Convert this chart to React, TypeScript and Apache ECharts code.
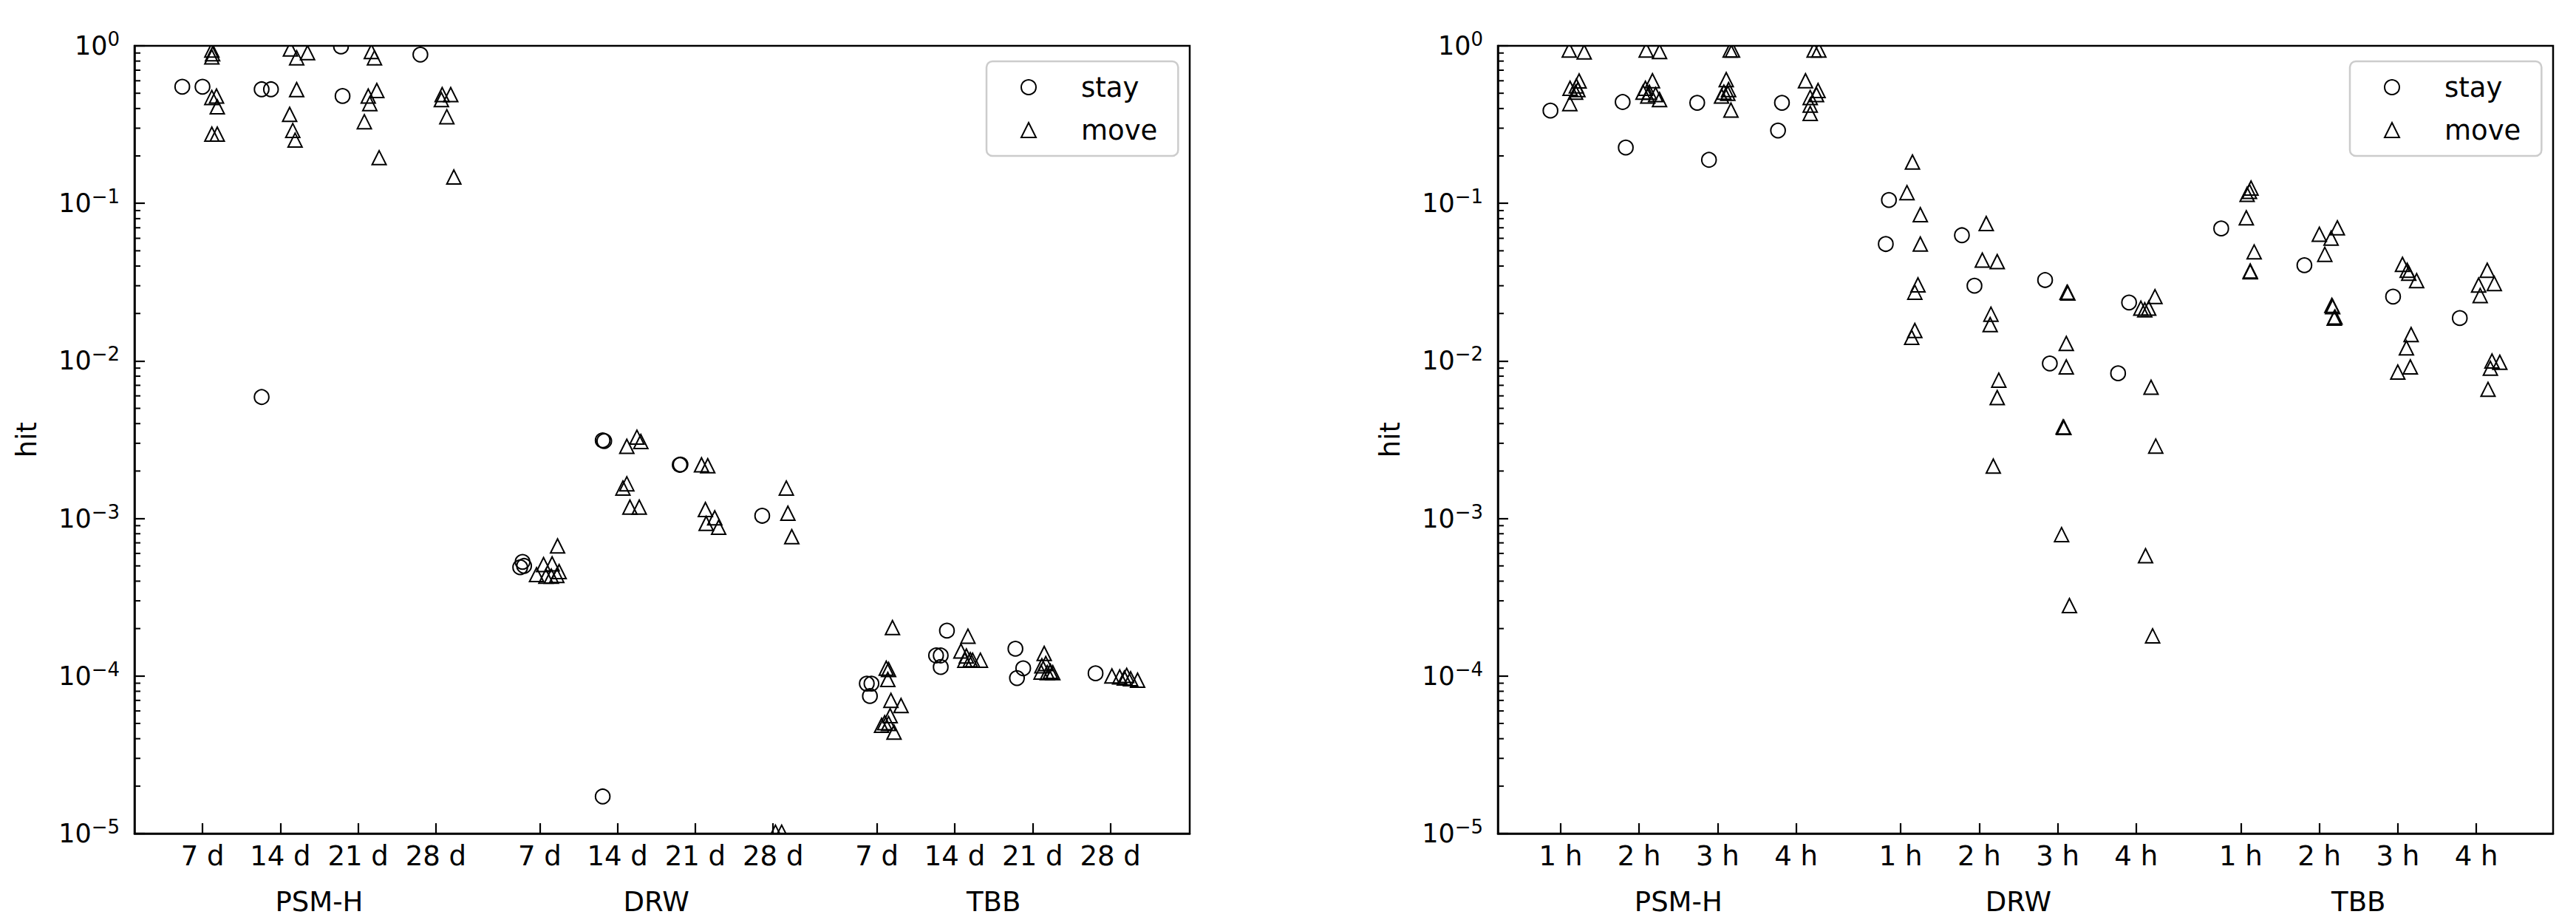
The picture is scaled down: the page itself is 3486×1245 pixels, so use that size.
import React, { useEffect, useRef } from 'react';
import * as echarts from 'echarts';

// ---------- data ----------
// tick positions on the x axis (three groups of four, groups separated by 4.333)
const TICK_POS = [0, 1, 2, 3, 4.333, 5.333, 6.333, 7.333, 8.667, 9.667, 10.667, 11.667];
const GROUP_CENTERS = [1.5, 5.833, 10.167];
const GROUPS = ['PSM-H', 'DRW', 'TBB'];
const LEFT_TICK_LABELS = ['7 d', '14 d', '21 d', '28 d', '7 d', '14 d', '21 d', '28 d', '7 d', '14 d', '21 d', '28 d'];
const RIGHT_TICK_LABELS = ['1 h', '2 h', '3 h', '4 h', '1 h', '2 h', '3 h', '4 h', '1 h', '2 h', '3 h', '4 h'];
const MINOR_VALUES = [1e-5, 1e-4, 1e-3, 1e-2, 1e-1].flatMap((d) => [2, 3, 4, 5, 6, 7, 8, 9].map((k) => +(k * d).toPrecision(3)));

// [category index, horizontal jitter, hit]
const leftStay: [number, number, number][] = [
  [0, -0.26, 0.55], [0, 0.0, 0.55],
  [1, -0.24, 0.53], [1, -0.12, 0.53], [1, -0.24, 0.0059],
  [2, -0.22, 0.99], [2, -0.2, 0.48],
  [3, -0.2, 0.88],
  [4, -0.22, 5.3e-4], [4, -0.25, 4.9e-4], [4, -0.2, 5.0e-4],
  [5, -0.19, 3.13e-3], [5, -0.17, 3.1e-3], [5, -0.19, 1.72e-5],
  [6, -0.2, 2.19e-3], [6, -0.19, 2.2e-3],
  [7, -0.14, 1.04e-3],
  [8, -0.13, 8.95e-5], [8, -0.07, 8.95e-5], [8, -0.09, 7.46e-5],
  [9, -0.1, 1.94e-4], [9, -0.24, 1.35e-4], [9, -0.18, 1.35e-4], [9, -0.18, 1.14e-4],
  [10, -0.22, 1.49e-4], [10, -0.12, 1.12e-4], [10, -0.2, 9.7e-5],
  [11, -0.19, 1.04e-4],
];
const leftMove: [number, number, number][] = [
  [0, 0.12, 0.94], [0, 0.13, 0.89], [0, 0.12, 0.85], [0, 0.18, 0.48], [0, 0.12, 0.47], [0, 0.19, 0.41], [0, 0.12, 0.275], [0, 0.19, 0.275],
  [1, 0.13, 0.955], [1, 0.21, 0.84], [1, 0.35, 0.905], [1, 0.21, 0.527], [1, 0.12, 0.367], [1, 0.16, 0.29], [1, 0.19, 0.252],
  [2, 0.17, 0.92], [2, 0.21, 0.84], [2, 0.24, 0.52], [2, 0.13, 0.48], [2, 0.15, 0.43], [2, 0.08, 0.33], [2, 0.27, 0.195],
  [3, 0.08, 0.49], [3, 0.19, 0.49], [3, 0.07, 0.456], [3, 0.14, 0.355], [3, 0.23, 0.147],
  [4, 0.05, 5.1e-4], [4, 0.16, 5.15e-4], [4, -0.04, 4.4e-4], [4, 0.08, 4.3e-4], [4, 0.15, 4.3e-4], [4, 0.22, 4.35e-4], [4, 0.25, 4.6e-4], [4, 0.23, 6.7e-4],
  [5, 0.25, 3.28e-3], [5, 0.3, 3.08e-3], [5, 0.12, 2.87e-3], [5, 0.12, 1.66e-3], [5, 0.07, 1.56e-3], [5, 0.16, 1.18e-3], [5, 0.28, 1.18e-3],
  [6, 0.08, 2.19e-3], [6, 0.16, 2.16e-3], [6, 0.13, 1.14e-3], [6, 0.25, 1.01e-3], [6, 0.14, 9.3e-4], [6, 0.3, 8.8e-4],
  [7, 0.17, 1.56e-3], [7, 0.19, 1.08e-3], [7, 0.24, 7.66e-4], [7, 0.03, 1.02e-5], [7, 0.11, 1.02e-5],
  [8, 0.2, 2.03e-4], [8, 0.12, 1.12e-4], [8, 0.15, 1.1e-4], [8, 0.14, 9.5e-5], [8, 0.18, 7.0e-5], [8, 0.31, 6.5e-5], [8, 0.17, 5.6e-5], [8, 0.1, 5.06e-5], [8, 0.15, 5.0e-5], [8, 0.22, 4.4e-5], [8, 0.06, 4.86e-5],
  [9, 0.17, 1.79e-4], [9, 0.08, 1.44e-4], [9, 0.15, 1.34e-4], [9, 0.2, 1.27e-4], [9, 0.23, 1.26e-4], [9, 0.33, 1.26e-4], [9, 0.13, 1.26e-4],
  [10, 0.15, 1.39e-4], [10, 0.12, 1.16e-4], [10, 0.17, 1.2e-4], [10, 0.23, 1.07e-4], [10, 0.11, 1.06e-4], [10, 0.19, 1.05e-4], [10, 0.26, 1.05e-4],
  [11, 0.02, 1.0e-4], [11, 0.12, 9.86e-5], [11, 0.21, 1.01e-4], [11, 0.18, 9.7e-5], [11, 0.26, 9.6e-5], [11, 0.35, 9.4e-5],
];
const rightStay: [number, number, number][] = [
  [0, -0.13, 0.388],
  [1, -0.21, 0.44], [1, -0.17, 0.226],
  [2, -0.26, 0.435], [2, -0.11, 0.189],
  [3, -0.18, 0.435], [3, -0.23, 0.29],
  [4, -0.15, 0.105], [4, -0.19, 0.0552],
  [5, -0.22, 0.0628], [5, -0.06, 0.03],
  [6, -0.16, 0.0326], [6, -0.1, 0.00964],
  [7, -0.09, 0.0235], [7, -0.23, 0.00834],
  [8, -0.25, 0.0693],
  [9, -0.19, 0.0405],
  [10, -0.06, 0.0256],
  [11, -0.21, 0.0187],
];
const rightMove: [number, number, number][] = [
  [0, 0.11, 0.94], [0, 0.3, 0.915], [0, 0.235, 0.598], [0, 0.12, 0.537], [0, 0.2, 0.556], [0, 0.19, 0.508], [0, 0.22, 0.527], [0, 0.117, 0.43],
  [1, 0.09, 0.94], [1, 0.26, 0.92], [1, 0.17, 0.6], [1, 0.08, 0.537], [1, 0.05, 0.508], [1, 0.13, 0.508], [1, 0.21, 0.49], [1, 0.26, 0.456], [1, 0.11, 0.48],
  [2, 0.16, 0.94], [2, 0.19, 0.94], [2, 0.11, 0.61], [2, 0.14, 0.527], [2, 0.08, 0.508], [2, 0.13, 0.5], [2, 0.05, 0.48], [2, 0.17, 0.391],
  [3, 0.23, 0.94], [3, 0.29, 0.94], [3, 0.12, 0.6], [3, 0.28, 0.52], [3, 0.26, 0.49], [3, 0.18, 0.47], [3, 0.18, 0.42], [3, 0.18, 0.372],
  [4, 0.15, 0.183], [4, 0.08, 0.117], [4, 0.25, 0.0848], [4, 0.25, 0.0552], [4, 0.22, 0.0304], [4, 0.18, 0.0273], [4, 0.18, 0.0156], [4, 0.14, 0.0141],
  [5, 0.09, 0.0745], [5, 0.04, 0.0436], [5, 0.23, 0.0427], [5, 0.15, 0.0198], [5, 0.14, 0.017], [5, 0.25, 0.00755], [5, 0.23, 0.00585], [5, 0.18, 0.00215],
  [6, 0.12, 0.0273], [6, 0.13, 0.027], [6, 0.11, 0.0129], [6, 0.11, 0.00916], [6, 0.07, 0.00381], [6, 0.08, 0.00378], [6, 0.05, 7.9e-4], [6, 0.15, 2.8e-4],
  [7, 0.24, 0.0256], [7, 0.06, 0.0216], [7, 0.11, 0.0211], [7, 0.16, 0.0216], [7, 0.19, 0.0068], [7, 0.25, 0.00288], [7, 0.12, 5.8e-4], [7, 0.21, 1.8e-4],
  [8, 0.11, 0.119], [8, 0.13, 0.125], [8, 0.08, 0.114], [8, 0.07, 0.081], [8, 0.17, 0.0492], [8, 0.12, 0.0368], [8, 0.12, 0.0372],
  [9, 0.23, 0.0699], [9, 0.0, 0.0636], [9, 0.15, 0.0601], [9, 0.07, 0.0475], [9, 0.16, 0.0225], [9, 0.17, 0.0221], [9, 0.2, 0.019], [9, 0.19, 0.0187],
  [10, 0.06, 0.041], [10, 0.12, 0.0376], [10, 0.14, 0.036], [10, 0.24, 0.0323], [10, 0.17, 0.0147], [10, 0.11, 0.0121], [10, 0.16, 0.00916], [10, 0.0, 0.0085],
  [11, 0.14, 0.0376], [11, 0.03, 0.0303], [11, 0.23, 0.031], [11, 0.05, 0.026], [11, 0.2, 0.00998], [11, 0.3, 0.0098], [11, 0.18, 0.00898], [11, 0.15, 0.0066],
];

const LEFT_X: [number, number] = [-0.874, 12.687];
const RIGHT_X: [number, number] = [-0.8, 12.646];

// ---------- styling ----------
const FONT = 'DejaVu Sans';
const FS = 37;
const BLACK = '#000';
const MARK_STYLE = { fill: 'none', stroke: BLACK, lineWidth: 2 };

function toPoints(rows: [number, number, number][]) {
  return rows.map(([c, off, v]) => [TICK_POS[c] + off, v]);
}

function markerSeries(name: string, rows: [number, number, number][], idx: number, shape: 'circle' | 'triangle') {
  return {
    type: 'custom',
    name,
    xAxisIndex: idx,
    yAxisIndex: idx,
    clip: true,
    silent: true,
    data: toPoints(rows),
    encode: { x: 0, y: 1 },
    itemStyle: { color: 'rgba(0,0,0,0)', borderColor: BLACK, borderWidth: 2 },
    renderItem: (_p: any, api: any) => {
      const pt = api.coord([api.value(0), api.value(1)]);
      if (shape === 'circle') {
        return { type: 'circle', shape: { cx: pt[0], cy: pt[1], r: 9.8 }, style: MARK_STYLE };
      }
      const h = 19;
      const w = 19;
      return {
        type: 'polygon',
        shape: { points: [[pt[0], pt[1] - h / 2], [pt[0] - w / 2, pt[1] + h / 2], [pt[0] + w / 2, pt[1] + h / 2]] },
        style: MARK_STYLE,
      };
    },
  };
}

function minorTickSeries(idx: number, xMin: number) {
  return {
    type: 'custom',
    xAxisIndex: idx,
    yAxisIndex: idx,
    clip: false,
    silent: true,
    data: MINOR_VALUES.map((v) => [xMin, v]),
    encode: { x: 0, y: 1 },
    renderItem: (_p: any, api: any) => {
      const pt = api.coord([api.value(0), api.value(1)]);
      return { type: 'line', shape: { x1: pt[0], y1: pt[1], x2: pt[0] + 8, y2: pt[1] }, style: { stroke: BLACK, lineWidth: 2 } };
    },
  };
}

function xAxisFor(gridIndex: number, range: [number, number], labels: string[]) {
  return {
    type: 'value',
    gridIndex,
    min: range[0],
    max: range[1],
    axisLine: { show: true, onZero: false, lineStyle: { color: BLACK, width: 2.5 } },
    axisTick: { show: true, inside: true, length: 14, customValues: TICK_POS, lineStyle: { color: BLACK, width: 2.2 } },
    axisLabel: {
      show: true,
      customValues: [...TICK_POS, ...GROUP_CENTERS],
      margin: 12,
      color: BLACK,
      fontSize: FS,
      fontFamily: FONT,
      formatter: (v: number) => {
        const i = TICK_POS.findIndex((t) => Math.abs(t - v) < 1e-6);
        if (i >= 0) return labels[i];
        const g = GROUP_CENTERS.findIndex((t) => Math.abs(t - v) < 1e-6);
        return g >= 0 ? `{g|${GROUPS[g]}}` : '';
      },
      rich: { g: { fontSize: FS, fontFamily: FONT, color: BLACK, padding: [62, 0, 0, 0] } },
    },
    splitLine: { show: false },
  };
}

function yAxisFor(gridIndex: number) {
  return {
    type: 'log',
    logBase: 10,
    gridIndex,
    min: 1e-5,
    max: 1,
    name: 'hit',
    nameLocation: 'middle',
    nameGap: 127,
    nameRotate: 90,
    nameTextStyle: { fontSize: FS, fontFamily: FONT, color: BLACK },
    axisLine: { show: true, onZero: false, lineStyle: { color: BLACK, width: 2.5 } },
    axisTick: { show: true, inside: true, length: 14, lineStyle: { color: BLACK, width: 2.2 } },
    axisLabel: {
      margin: 20,
      color: BLACK,
      fontFamily: FONT,
      formatter: (v: number) => {
        const e = Math.round(Math.log10(v));
        return `{b|10}{s|${e === 0 ? '0' : '\u2212' + -e}}`;
      },
      rich: {
        b: { fontSize: 35, lineHeight: 44, fontFamily: FONT, color: BLACK },
        s: { fontSize: 26, lineHeight: 18, verticalAlign: 'top', fontFamily: FONT, color: BLACK },
      },
    },
    splitLine: { show: false },
  };
}

function legendFor(left: number) {
  return {
    orient: 'vertical',
    left,
    top: 83,
    selectedMode: false,
    itemWidth: 20,
    itemHeight: 20,
    itemGap: 18,
    padding: [15, 28, 15, 46],
    borderColor: '#cccccc',
    borderWidth: 2.5,
    borderRadius: 8,
    backgroundColor: '#fff',
    data: [{ name: 'stay', icon: 'circle' }, { name: 'move', icon: 'triangle' }],
    itemStyle: { color: 'rgba(0,0,0,0)', borderColor: BLACK, borderWidth: 2 },
    textStyle: { fontSize: FS, lineHeight: 40, color: BLACK, fontFamily: FONT, padding: [0, 0, 0, 56] },
  };
}

export default function App() {
  const ref = useRef<HTMLDivElement>(null);
  useEffect(() => {
    if (!ref.current) return;
    const chart = echarts.init(ref.current, undefined, { renderer: 'svg' });
    chart.setOption({
      animation: false,
      backgroundColor: '#fff',
      textStyle: { fontFamily: FONT },
      grid: [
        { left: 182, top: 62, width: 1428, height: 1066, show: true, borderColor: BLACK, borderWidth: 2.5, containLabel: false },
        { left: 2027, top: 62, width: 1428, height: 1066, show: true, borderColor: BLACK, borderWidth: 2.5, containLabel: false },
      ],
      xAxis: [xAxisFor(0, LEFT_X, LEFT_TICK_LABELS), xAxisFor(1, RIGHT_X, RIGHT_TICK_LABELS)],
      yAxis: [yAxisFor(0), yAxisFor(1)],
      legend: [legendFor(1335), legendFor(3180)],
      series: [
        markerSeries('stay', leftStay, 0, 'circle'),
        markerSeries('move', leftMove, 0, 'triangle'),
        markerSeries('stay', rightStay, 1, 'circle'),
        markerSeries('move', rightMove, 1, 'triangle'),
        minorTickSeries(0, LEFT_X[0]),
        minorTickSeries(1, RIGHT_X[0]),
      ],
    });
    return () => chart.dispose();
  }, []);
  return <div ref={ref} style={{ position: 'fixed', left: 0, top: 0, width: 3486, height: 1245, background: '#fff' }} />;
}
